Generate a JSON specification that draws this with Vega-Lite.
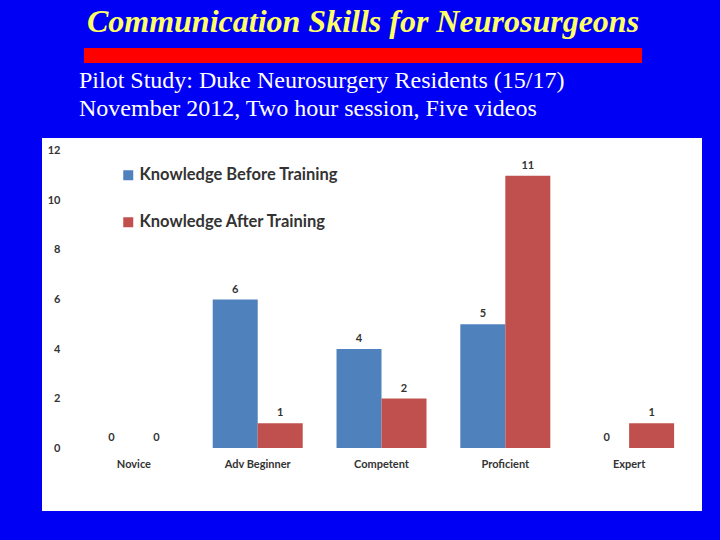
{
  "$schema": "https://vega.github.io/schema/vega-lite/v6.json",
  "background": "#0000F5",
  "padding": {"left": 42, "top": 6, "right": 18, "bottom": 30},
  "config": {"view": {"stroke": null}},
  "spacing": 6,
  "vconcat": [
    {
      "spacing": 0,
      "hconcat": [
        {
          "width": 42,
          "height": 15,
          "data": {"values": [{}]},
          "mark": {"type": "point", "opacity": 0},
          "encoding": {}
        },
        {
          "width": 558,
          "height": 15,
          "view": {"fill": "#FF0000", "stroke": null},
          "title": {
            "text": "Communication Skills for Neurosurgeons",
            "anchor": "middle",
            "frame": "group",
            "baseline": "alphabetic",
            "offset": -16,
            "font": "Liberation Serif",
            "fontStyle": "italic",
            "fontWeight": "bold",
            "fontSize": 32,
            "color": "#FFFF66"
          },
          "data": {"values": [{}]},
          "mark": {"type": "point", "opacity": 0},
          "encoding": {}
        }
      ]
    },
    {
      "width": 660,
      "height": 373,
      "view": {"fill": "white", "stroke": null},
      "title": {
        "text": ["Pilot Study: Duke Neurosurgery Residents (15/17)", "November 2012, Two hour session, Five videos"],
        "anchor": "start",
        "frame": "group",
        "dx": 37,
        "baseline": "bottom",
        "offset": -7,
        "lineHeight": 28,
        "font": "Liberation Serif",
        "fontSize": 24,
        "fontWeight": "normal",
        "color": "white"
      },
      "data": {
        "values": [
          {"level": "Novice", "series": "Knowledge Before Training", "count": 0},
          {"level": "Novice", "series": "Knowledge After Training", "count": 0},
          {"level": "Adv Beginner", "series": "Knowledge Before Training", "count": 6},
          {"level": "Adv Beginner", "series": "Knowledge After Training", "count": 1},
          {"level": "Competent", "series": "Knowledge Before Training", "count": 4},
          {"level": "Competent", "series": "Knowledge After Training", "count": 2},
          {"level": "Proficient", "series": "Knowledge Before Training", "count": 5},
          {"level": "Proficient", "series": "Knowledge After Training", "count": 11},
          {"level": "Expert", "series": "Knowledge Before Training", "count": 0},
          {"level": "Expert", "series": "Knowledge After Training", "count": 1}
        ]
      },
      "encoding": {
        "x": {
          "field": "level",
          "type": "nominal",
          "sort": ["Novice", "Adv Beginner", "Competent", "Proficient", "Expert"],
          "scale": {"paddingInner": 0, "paddingOuter": 0.1656, "align": 0.732},
          "axis": {
            "orient": "bottom",
            "offset": -63,
            "domain": false,
            "ticks": false,
            "title": null,
            "labelPadding": 10,
            "labelAngle": 0,
            "labelFont": "Lato",
            "labelFontWeight": "bold",
            "labelFontSize": 11,
            "labelColor": "#333333"
          }
        },
        "y": {
          "field": "count",
          "type": "quantitative",
          "scale": {"domain": [-2.545, 12.525], "nice": false, "zero": false},
          "axis": {
            "values": [0, 2, 4, 6, 8, 10, 12],
            "offset": -30,
            "domain": false,
            "ticks": false,
            "grid": false,
            "title": null,
            "labelPadding": 12,
            "labelFont": "Lato",
            "labelFontWeight": "bold",
            "labelFontSize": 11,
            "labelColor": "#333333"
          }
        }
      },
      "layer": [
        {
          "mark": {"type": "bar"},
          "encoding": {
            "xOffset": {
              "field": "series",
              "type": "nominal",
              "sort": ["Knowledge Before Training", "Knowledge After Training"],
              "scale": {"paddingInner": 0, "paddingOuter": 0.3756}
            },
            "y2": {"datum": 0},
            "color": {
              "field": "series",
              "type": "nominal",
              "sort": ["Knowledge Before Training", "Knowledge After Training"],
              "scale": {
                "domain": ["Knowledge Before Training", "Knowledge After Training"],
                "range": ["#4F81BD", "#C0504D"]
              },
              "legend": {
                "title": null,
                "orient": "none",
                "legendX": 78,
                "legendY": 119,
                "padding": 0,
                "symbolType": "square",
                "symbolSize": 100,
                "symbolStrokeWidth": 0,
                "labelFont": "Lato",
                "labelFontWeight": "bold",
                "labelFontSize": 16.5,
                "labelColor": "#333333",
                "labelOffset": 3,
                "labelLimit": 400,
                "rowPadding": 30
              }
            }
          }
        },
        {
          "mark": {"type": "text", "dy": -7, "baseline": "alphabetic", "font": "Lato", "fontWeight": "bold", "fontSize": 11, "color": "#333333"},
          "encoding": {
            "xOffset": {
              "field": "series",
              "type": "nominal",
              "sort": ["Knowledge Before Training", "Knowledge After Training"]
            },
            "text": {"field": "count", "type": "quantitative"}
          }
        },
        {
          "data": {"values": [{}]},
          "mark": {"type": "rule", "color": "#B5B5B5"},
          "encoding": {
            "x": {"datum": "Novice", "bandPosition": 0},
            "y": {"datum": 0},
            "y2": {"datum": 12}
          }
        },
        {
          "data": {"values": [{}]},
          "mark": {"type": "rule", "color": "#C8C8C8"},
          "encoding": {
            "x": {"datum": "Novice", "bandPosition": 0},
            "x2": {"datum": "Expert", "bandPosition": 1},
            "y": {"datum": 0}
          }
        }
      ]
    }
  ]
}
